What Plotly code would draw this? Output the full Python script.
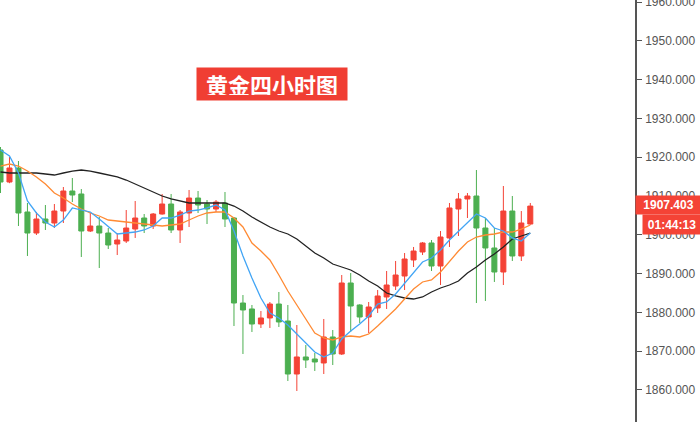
import plotly.graph_objects as go

bars = list(range(60))

opens = [1921.86, 1913.61, 1917.22, 1905.88, 1900.46, 1904.07, 1903.04, 1906.13, 1911.29, 1910.52,
         1900.98, 1902.27, 1900.46, 1897.63, 1898.40, 1901.49, 1904.33, 1902.27, 1905.36, 1907.94,
         1901.24, 1905.62, 1909.48, 1907.94, 1906.65, 1908.20, 1904.33, 1882.42, 1880.88, 1877.01,
         1878.56, 1882.16, 1877.78, 1864.12, 1868.51, 1867.99, 1866.96, 1873.66, 1869.28, 1887.58,
         1881.91, 1878.81, 1881.13, 1883.97, 1886.80, 1889.38, 1893.51, 1895.57, 1897.89, 1891.96,
         1899.18, 1906.65, 1909.23, 1910.00, 1901.75, 1896.60, 1890.41, 1906.13, 1894.54, 1902.78]
highs = [1922.63, 1920.05, 1919.02, 1908.20, 1905.88, 1907.68, 1907.94, 1912.32, 1914.64, 1911.80,
         1905.62, 1904.59, 1901.75, 1900.46, 1906.39, 1908.71, 1905.36, 1905.62, 1910.52, 1910.52,
         1906.39, 1911.55, 1911.29, 1908.97, 1908.97, 1911.03, 1904.59, 1884.48, 1881.91, 1880.36,
         1882.68, 1885.26, 1881.91, 1876.75, 1871.60, 1869.54, 1878.30, 1875.46, 1889.64, 1890.15,
         1882.10, 1882.68, 1885.77, 1890.67, 1893.25, 1895.31, 1896.86, 1898.14, 1898.66, 1900.98,
         1908.20, 1910.77, 1910.77, 1916.70, 1904.33, 1901.75, 1912.58, 1910.00, 1906.13, 1908.20]
lows = [1910.77, 1913.30, 1902.27, 1894.54, 1899.95, 1901.24, 1901.75, 1903.04, 1908.45, 1894.28,
        1900.72, 1891.44, 1896.34, 1894.79, 1897.89, 1899.18, 1900.46, 1901.49, 1905.20, 1900.46,
        1897.89, 1902.01, 1905.62, 1902.78, 1905.88, 1902.01, 1876.49, 1869.28, 1874.95, 1875.98,
        1875.98, 1876.24, 1862.32, 1859.74, 1865.67, 1864.90, 1864.12, 1866.44, 1869.02, 1874.95,
        1877.27, 1874.69, 1879.85, 1880.88, 1885.77, 1885.77, 1891.70, 1894.79, 1890.67, 1887.06,
        1896.86, 1899.69, 1904.33, 1882.42, 1882.94, 1887.84, 1887.06, 1893.25, 1893.25, 1902.60]
closes = [1913.61, 1917.22, 1905.62, 1900.46, 1904.07, 1903.04, 1906.13, 1911.29, 1910.26, 1900.98,
          1902.27, 1900.46, 1897.37, 1898.66, 1901.75, 1904.33, 1902.27, 1905.36, 1907.94, 1901.24,
          1905.88, 1909.48, 1907.68, 1906.65, 1908.45, 1904.07, 1882.42, 1880.62, 1877.01, 1878.56,
          1882.16, 1877.53, 1864.12, 1868.51, 1867.73, 1867.22, 1873.66, 1869.28, 1887.58, 1881.65,
          1878.81, 1881.39, 1884.23, 1887.06, 1889.64, 1893.76, 1895.82, 1897.89, 1891.96, 1899.43,
          1906.91, 1909.23, 1910.00, 1901.75, 1896.60, 1890.41, 1906.13, 1894.54, 1903.04, 1907.403]

ma_fast = [1921.86, 1920.31, 1915.93, 1908.71, 1905.62, 1903.30, 1902.01, 1903.81, 1906.91, 1906.39,
           1905.88, 1904.07, 1902.01, 1900.21, 1900.46, 1900.72, 1901.24, 1902.27, 1904.33, 1904.33,
           1905.10, 1906.13, 1906.39, 1906.91, 1907.68, 1906.39, 1900.98, 1894.54, 1888.87, 1883.71,
           1879.85, 1878.56, 1876.75, 1874.43, 1872.11, 1869.79, 1868.51, 1869.54, 1873.14, 1875.21,
           1877.01, 1879.07, 1882.16, 1882.68, 1884.74, 1887.58, 1890.41, 1892.99, 1894.02, 1896.08,
           1898.66, 1900.98, 1903.30, 1905.36, 1904.33, 1901.75, 1900.98, 1899.18, 1898.40, 1900.46]
ma_mid = [1917.73, 1918.25, 1917.73, 1916.44, 1914.90, 1913.09, 1910.77, 1909.48, 1907.94, 1906.65,
          1905.62, 1904.85, 1903.81, 1903.56, 1903.30, 1903.04, 1902.78, 1902.53, 1902.27, 1902.53,
          1902.78, 1903.81, 1904.85, 1905.62, 1905.88, 1905.88, 1904.33, 1902.01, 1897.89, 1895.82,
          1893.51, 1889.64, 1885.51, 1881.91, 1878.30, 1874.69, 1873.40, 1872.89, 1873.66, 1873.92,
          1873.66, 1874.43, 1876.49, 1878.56, 1880.88, 1883.45, 1886.03, 1887.84, 1888.35, 1890.41,
          1893.25, 1895.82, 1898.14, 1899.43, 1899.95, 1900.21, 1900.72, 1900.72, 1901.49, 1902.53]
ma_slow = [1916.19, 1915.93, 1915.93, 1915.93, 1915.93, 1915.67, 1915.41, 1915.93, 1916.44, 1916.70,
           1916.44, 1915.93, 1915.41, 1914.90, 1914.12, 1913.09, 1912.06, 1911.03, 1910.00, 1909.23,
           1908.71, 1908.20, 1908.20, 1908.20, 1908.20, 1908.20, 1907.42, 1906.13, 1904.59, 1903.30,
           1902.01, 1900.98, 1900.21, 1898.92, 1897.11, 1895.31, 1894.02, 1892.47, 1891.70, 1890.93,
           1889.64, 1888.09, 1886.80, 1885.00, 1884.23, 1883.71, 1883.45, 1883.97, 1885.26, 1886.29,
           1887.06, 1888.09, 1890.15, 1891.70, 1893.51, 1895.05, 1896.86, 1898.92, 1899.69, 1900.46]

y_ticks = [1860, 1870, 1880, 1890, 1900, 1910, 1920, 1930, 1940, 1950, 1960]
last_price = "1907.403"
countdown = "01:44:13"
title_text = "黄金四小时图"

RED = "#F44336"
GREEN = "#4CAF50"

fig = go.Figure()
fig.add_trace(go.Candlestick(
    x=bars, open=opens, high=highs, low=lows, close=closes,
    increasing=dict(line=dict(color=RED, width=1), fillcolor=RED),
    decreasing=dict(line=dict(color=GREEN, width=1), fillcolor=GREEN),
    whiskerwidth=0, hoverinfo="skip", showlegend=False,
))
fig.add_trace(go.Scatter(x=bars, y=ma_slow, mode="lines",
                         line=dict(color="#222222", width=1.3), showlegend=False, hoverinfo="skip"))
fig.add_trace(go.Scatter(x=bars, y=ma_mid, mode="lines",
                         line=dict(color="#FF8A33", width=1.3), showlegend=False, hoverinfo="skip"))
fig.add_trace(go.Scatter(x=bars, y=ma_fast, mode="lines",
                         line=dict(color="#42A5F5", width=1.3), showlegend=False, hoverinfo="skip"))

fig.update_layout(
    width=700, height=422,
    margin=dict(l=0, r=65, t=0, b=0, autoexpand=False),
    paper_bgcolor="white", plot_bgcolor="white",
    boxgap=0.2,
    hovermode=False,
    xaxis=dict(range=[-0.056, 70.66], visible=False, rangeslider=dict(visible=False),
               showgrid=False, zeroline=False),
    yaxis=dict(side="right", range=[1851.75, 1960.52], tickvals=y_ticks,
               ticktext=[f"{v:.3f}" for v in y_ticks],
               showgrid=False, zeroline=False, showline=True, linecolor="#555555", linewidth=1.5,
               ticks="outside", ticklen=5, tickcolor="#555555", tickwidth=1,
               ticklabelstandoff=1, ticklabeloverflow="allow",
               tickfont=dict(family="Liberation Sans, Arial, sans-serif", size=12, color="#555555")),
    annotations=[
        dict(text=f"<b>{title_text}</b>", xref="paper", yref="paper", x=272 / 635, y=1 - 84 / 422,
             xanchor="center", yanchor="middle", showarrow=False, bgcolor="#F03E33",
             width=140, height=22, borderpad=5, align="center",
             font=dict(family="Noto Sans CJK SC", size=22, color="white")),
        dict(text=f"<b>{last_price}</b>", xref="paper", yref="y", x=1.0, y=1907.6,
             xanchor="left", yanchor="middle", showarrow=False, bgcolor=RED,
             width=61, height=14, borderpad=2, align="center",
             font=dict(family="Liberation Sans, Arial, sans-serif", size=12, color="white")),
        dict(text=f"<b>{countdown}</b>", xref="paper", yref="y", x=642 / 635, y=1902.65,
             xanchor="left", yanchor="middle", showarrow=False, bgcolor=RED,
             width=54, height=15, borderpad=2, align="center",
             font=dict(family="Liberation Sans, Arial, sans-serif", size=12, color="white")),
    ],
)

fig.write_html("out.html", config={"displayModeBar": False},
               post_script="document.body.style.margin='0px';")
